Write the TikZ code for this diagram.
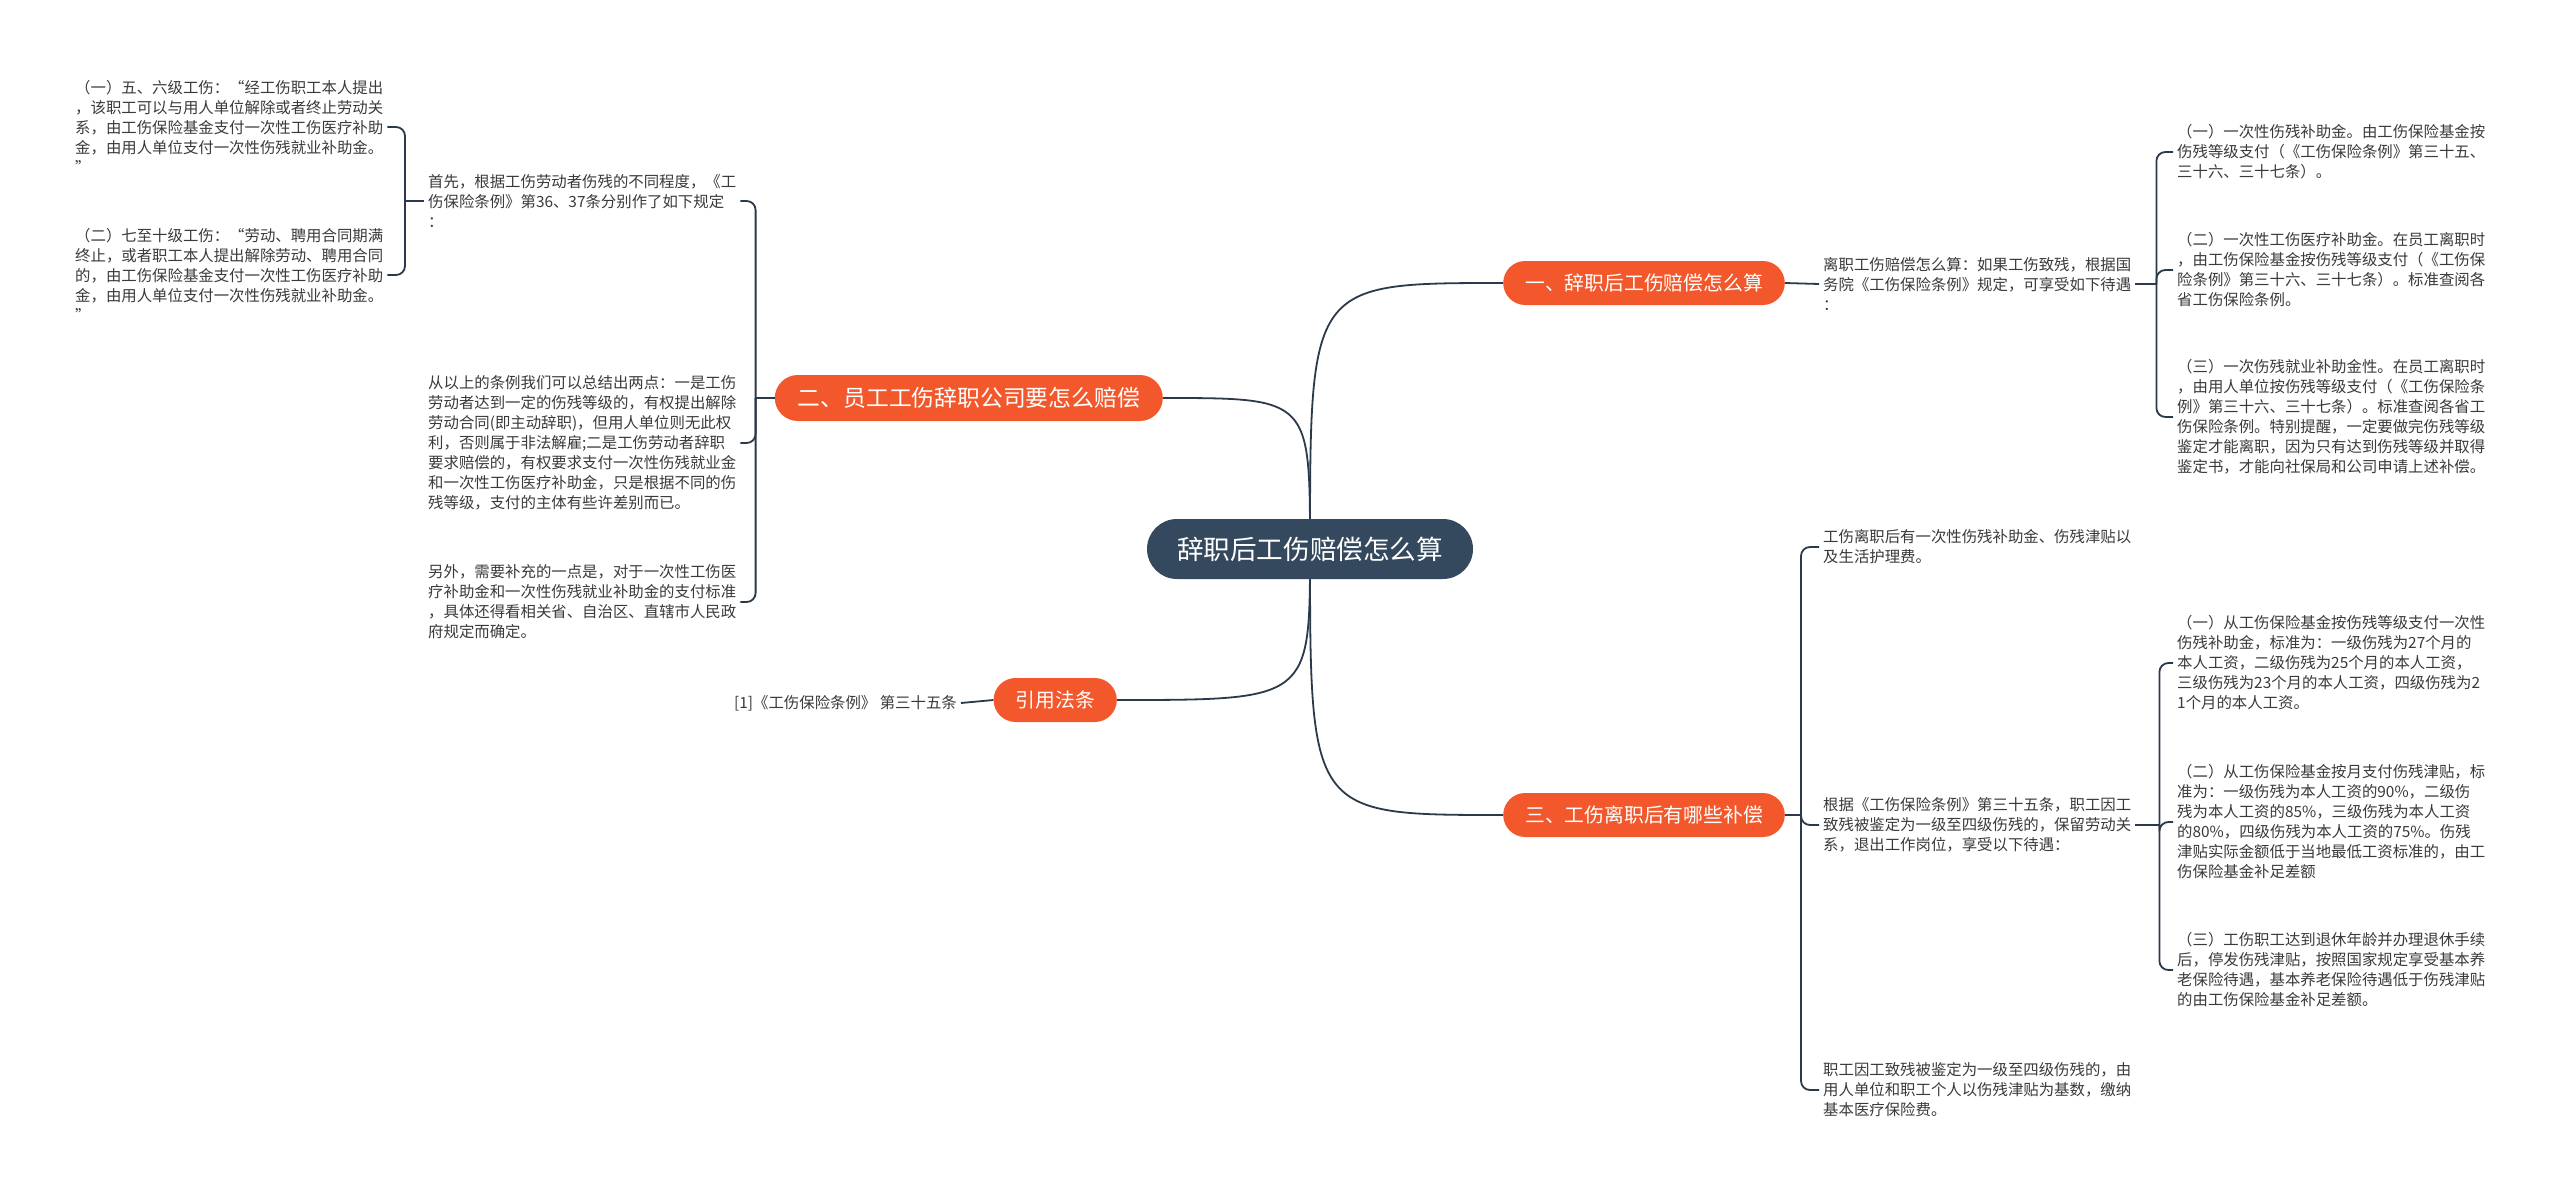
\documentclass[tikz,border=0pt]{standalone}
\usepackage{fontspec}
\setmainfont{Noto Sans CJK SC}
\usetikzlibrary{backgrounds}
\definecolor{rootc}{HTML}{34495E}
\definecolor{topicc}{HTML}{F2582C}
\definecolor{linkc}{HTML}{2B3A4A}
\definecolor{leafc}{HTML}{3A3A3A}
\tikzset{
  rootbox/.style={fill=rootc, text=white, rounded corners=30pt, minimum height=60pt,
    inner xsep=30pt, inner ysep=0pt, font=\fontsize{26.6}{30}\selectfont},
  topic/.style={fill=topicc, text=white, rounded corners=22pt, minimum height=44pt,
    inner xsep=22pt, inner ysep=0pt, font=\fontsize{19.8}{24}\selectfont},
  bigtopic/.style={topic, rounded corners=23pt, minimum height=46pt,
    inner xsep=23pt, font=\fontsize{22.8}{26}\selectfont},
  leaf/.style={text=leafc, align=left, inner xsep=4pt, inner ysep=0pt,
    font=\fontsize{15.4}{20}\selectfont},
  link/.style={draw=linkc, line width=1.8pt},
  brace/.style={link, rounded corners=9pt}
}

\begin{document}
\begin{tikzpicture}[x=1pt,y=-1pt]
	%%%%% START %%%%%
	\useasboundingbox (0,0) rectangle (2560,1191);
	
	\node[rootbox] (root) at (1310,549) {辞职后工伤赔偿怎么算};
	
	\node[topic, anchor=west] (b1) at (1503,283) {一、辞职后工伤赔偿怎么算};
	\node[bigtopic, anchor=east] (b2) at (1163,398) {二、员工工伤辞职公司要怎么赔偿};
	\node[topic, anchor=west] (b3) at (1503,815) {三、工伤离职后有哪些补偿};
	\node[topic, anchor=east] (b4) at (1117,700) {引用法条};
	
	%% left side
	\node[leaf, anchor=west] (l1a) at (71,127) {（一）五、六级工伤：“经工伤职工本人提出\\，该职工可以与用人单位解除或者终止劳动关\\系，由工伤保险基金支付一次性工伤医疗补助\\金，由用人单位支付一次性伤残就业补助金。\\”};
	\node[leaf, anchor=west] (l1b) at (71,275) {（二）七至十级工伤：“劳动、聘用合同期满\\终止，或者职工本人提出解除劳动、聘用合同\\的，由工伤保险基金支付一次性工伤医疗补助\\金，由用人单位支付一次性伤残就业补助金。\\”};
	\node[leaf, anchor=west] (l2a) at (424,201) {首先，根据工伤劳动者伤残的不同程度，《工\\伤保险条例》第36、37条分别作了如下规定\\：};
	\node[leaf, anchor=west] (l2b) at (424,443) {从以上的条例我们可以总结出两点：一是工伤\\劳动者达到一定的伤残等级的，有权提出解除\\劳动合同(即主动辞职)，但用人单位则无此权\\利，否则属于非法解雇;二是工伤劳动者辞职\\要求赔偿的，有权要求支付一次性伤残就业金\\和一次性工伤医疗补助金，只是根据不同的伤\\残等级，支付的主体有些许差别而已。};
	\node[leaf, anchor=west] (l2c) at (424,602) {另外，需要补充的一点是，对于一次性工伤医\\疗补助金和一次性伤残就业补助金的支付标准\\，具体还得看相关省、自治区、直辖市人民政\\府规定而确定。};
	\node[leaf, anchor=east] (ref) at (961,703) {[1]《工伤保险条例》 第三十五条};
	
	%% right side
	\node[leaf, anchor=west] (r1) at (1819,284) {离职工伤赔偿怎么算：如果工伤致残，根据国\\务院《工伤保险条例》规定，可享受如下待遇\\：};
	\node[leaf, anchor=west] (r1a) at (2173,152) {（一）一次性伤残补助金。由工伤保险基金按\\伤残等级支付（《工伤保险条例》第三十五、\\三十六、三十七条）。};
	\node[leaf, anchor=west] (r1b) at (2173,270) {（二）一次性工伤医疗补助金。在员工离职时\\，由工伤保险基金按伤残等级支付（《工伤保\\险条例》第三十六、三十七条）。标准查阅各\\省工伤保险条例。};
	\node[leaf, anchor=west] (r1c) at (2173,417) {（三）一次伤残就业补助金性。在员工离职时\\，由用人单位按伤残等级支付（《工伤保险条\\例》第三十六、三十七条）。标准查阅各省工\\伤保险条例。特别提醒，一定要做完伤残等级\\鉴定才能离职，因为只有达到伤残等级并取得\\鉴定书，才能向社保局和公司申请上述补偿。};
	
	\node[leaf, anchor=west] (r3a) at (1819,547) {工伤离职后有一次性伤残补助金、伤残津贴以\\及生活护理费。};
	\node[leaf, anchor=west] (r3b) at (1819,825) {根据《工伤保险条例》第三十五条，职工因工\\致残被鉴定为一级至四级伤残的，保留劳动关\\系，退出工作岗位，享受以下待遇：};
	\node[leaf, anchor=west] (r3c) at (1819,1090) {职工因工致残被鉴定为一级至四级伤残的，由\\用人单位和职工个人以伤残津贴为基数，缴纳\\基本医疗保险费。};
	\node[leaf, anchor=west] (r3b1) at (2173,663) {（一）从工伤保险基金按伤残等级支付一次性\\伤残补助金，标准为：一级伤残为27个月的\\本人工资，二级伤残为25个月的本人工资，\\三级伤残为23个月的本人工资，四级伤残为2\\1个月的本人工资。};
	\node[leaf, anchor=west] (r3b2) at (2173,822) {（二）从工伤保险基金按月支付伤残津贴，标\\准为：一级伤残为本人工资的90\%，二级伤\\残为本人工资的85\%，三级伤残为本人工资\\的80\%，四级伤残为本人工资的75\%。伤残\\津贴实际金额低于当地最低工资标准的，由工\\伤保险基金补足差额};
	\node[leaf, anchor=west] (r3b3) at (2173,970) {（三）工伤职工达到退休年龄并办理退休手续\\后，停发伤残津贴，按照国家规定享受基本养\\老保险待遇，基本养老保险待遇低于伤残津贴\\的由工伤保险基金补足差额。};
	
	%% curves from the root
	\begin{scope}[on background layer]
		\fill[white] (0,0) rectangle (2560,1191);
		\draw[link] (root.center) .. controls (root.center |- b1.west) .. (b1.west);
		\draw[link] (root.center) .. controls (root.center |- b2.east) .. (b2.east);
		\draw[link] (root.center) .. controls (root.center |- b3.west) .. (b3.west);
		\draw[link] (root.center) .. controls (root.center |- b4.east) .. (b4.east);
	\end{scope}
	
	%% braces
	\draw[link] (b1.east) -- (r1.west);
	\draw[link] (r1.east) -- ++(21,0) coordinate (j1);
	\foreach \c in {r1a,r1b,r1c} \draw[brace] (j1) |- (\c.west);
	
	\draw[link] (b3.east) -- ++(16,0) coordinate (j3);
	\foreach \c in {r3a,r3b,r3c} \draw[brace] (j3) |- (\c.west);
	\draw[link] (r3b.east) -- ++(24,0) coordinate (j3b);
	\foreach \c in {r3b1,r3b2,r3b3} \draw[brace] (j3b) |- (\c.west);
	
	\draw[link] (b2.west) -- ++(-19,0) coordinate (j2);
	\foreach \c in {l2a,l2b,l2c} \draw[brace] (j2) |- (\c.east);
	\draw[link] (l2a.west) -- ++(-19,0) coordinate (j2a);
	\foreach \c in {l1a,l1b} \draw[brace] (j2a) |- (\c.east);
	
	\draw[link] (b4.west) -- (ref.east);
	%%%%% END %%%%%
\end{tikzpicture}
\end{document}
